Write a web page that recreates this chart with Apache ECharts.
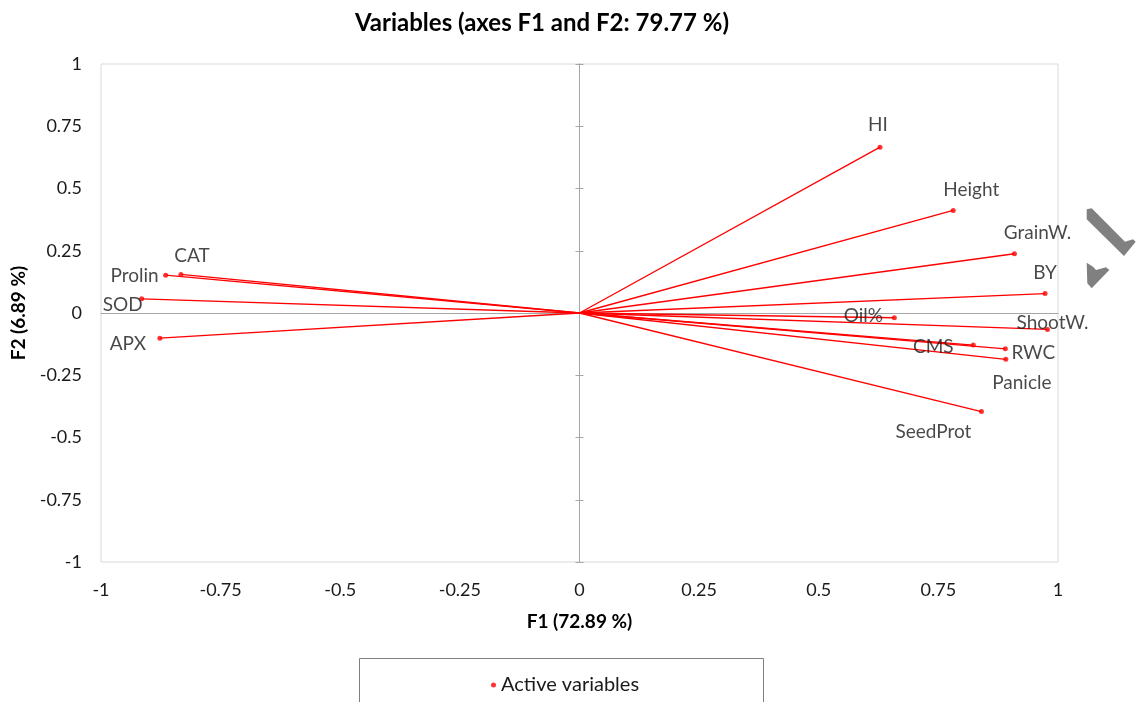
<!DOCTYPE html>
<html><head><meta charset="utf-8">
<script src="https://cdn.jsdelivr.net/npm/echarts@6/dist/echarts.min.js"></script>
<style>html,body{margin:0;padding:0;background:#fff}#c{width:1136px;height:702px}</style>
</head><body><div id="c"></div>
<script>
// ---- data ----
const variables = ['HI','Height','GrainW.','BY','Oil%','ShootW.','CMS','RWC','Panicle','SeedProt','CAT','Prolin','SOD','APX'];
const f1 = [0.628, 0.781, 0.909, 0.973, 0.658, 0.978, 0.823, 0.890, 0.891, 0.840, -0.833, -0.865, -0.915, -0.877];
const f2 = [0.666, 0.412, 0.238, 0.078, -0.019, -0.066, -0.129, -0.144, -0.186, -0.396, 0.155, 0.152, 0.057, -0.101];
const axisTicks = [-1, -0.75, -0.5, -0.25, 0, 0.25, 0.5, 0.75, 1];

// ---- label placement (style only) ----
const labelOffset = {
  'HI':[-2,-22], 'Height':[18,-21], 'GrainW.':[23,-21], 'BY':[0,-21], 'Oil%':[-31,-2],
  'ShootW.':[5,-7], 'CMS':[-40,2], 'RWC':[28,4], 'Panicle':[16,24], 'SeedProt':[-48,20],
  'CAT':[11,-19], 'Prolin':[-31,1], 'SOD':[-19,6], 'APX':[-32,6]
};

const FONT = 'Lato, "Open Sans", sans-serif';
const RED = '#ff0000';
const TXT = '#1a1a1a';
const gridRect = {left:101, right:78, top:64, bottom:140};
const fmt = v => String(v);

const points = variables.map((n,i)=>({
  name:n, value:[f1[i], f2[i]],
  label:{show:true, position:'inside', offset:labelOffset[n], formatter:n}
}));
const vectors = variables.map((n,i)=>({coords:[[0,0],[f1[i],f2[i]]]}));

const baseAxis = {
  type:'value', min:axisTicks[0], max:axisTicks[axisTicks.length-1], interval:0.25,
  splitLine:{show:false}, axisTick:{show:false}
};
const zeroAxis = (extra, lineShow, ticks, inside) => Object.assign({
  type:'value', min:-1, max:1, interval:0.25,
  axisLine:{show:lineShow, onZero:true, lineStyle:{color:'#a6a6a6', width:1}},
  axisTick:{show:ticks, inside:inside, length:4, lineStyle:{color:'#a6a6a6'}},
  axisLabel:{show:false}, splitLine:{show:false}
}, extra);

const chart = echarts.init(document.getElementById('c'), null, {renderer:'canvas'});
chart.setOption({
  animation:false,
  backgroundColor:'#fff',
  textStyle:{fontFamily:FONT},
  title:{
    text:'Variables (axes F1 and F2: 79.77 %)',
    left:537, top:6, textAlign:'center',
    textStyle:{fontFamily:FONT, fontSize:24, fontWeight:'bold', color:'#000'}
  },
  grid:[
    Object.assign({show:true, borderColor:'#d9d9d9', borderWidth:1, backgroundColor:'transparent'}, gridRect),
    Object.assign({}, gridRect),
    Object.assign({}, gridRect)
  ],
  xAxis:[
    Object.assign({}, baseAxis, {
      gridIndex:0, position:'bottom',
      axisLine:{show:false, onZero:false},
      axisLabel:{fontFamily:FONT, fontSize:18, color:TXT, margin:19, formatter:fmt},
      name:'F1 (72.89 %)', nameLocation:'middle', nameGap:50,
      nameTextStyle:{fontFamily:FONT, fontSize:19, fontWeight:'bold', color:'#000'}
    }),
    zeroAxis({gridIndex:1, position:'bottom'}, true, false, false),
    zeroAxis({gridIndex:2, position:'bottom'}, false, false, false)
  ],
  yAxis:[
    Object.assign({}, baseAxis, {
      gridIndex:0, position:'left',
      axisLine:{show:false, onZero:false},
      axisLabel:{fontFamily:FONT, fontSize:18, color:TXT, margin:19, formatter:fmt},
      name:'F2 (6.89 %)', nameLocation:'middle', nameGap:71, nameRotate:90,
      nameTextStyle:{fontFamily:FONT, fontSize:19, fontWeight:'bold', color:'#000'}
    }),
    zeroAxis({gridIndex:1, position:'left'}, true, true, false),
    zeroAxis({gridIndex:2, position:'left'}, true, true, true)
  ],
  legend:{
    top:670, left:486, data:['Active variables'],
    icon:'circle', itemWidth:5, itemHeight:5, itemGap:8,
    textStyle:{fontFamily:FONT, fontSize:20, color:TXT}
  },
  graphic:[
    {
      type:'rect', left:357, top:656, shape:{width:404, height:60},
      style:{fill:'none', stroke:'#7f7f7f', lineWidth:1}, silent:true, z:-1
    },
    {
      type:'polygon', silent:true,
      shape:{points:[[1086.7,209.3],[1091.7,208.3],[1125,241.7],[1133,239.3],[1135.7,241.7],[1124,256],[1086.7,219.3]]},
      style:{fill:'#808080'}
    },
    {
      type:'polygon', silent:true,
      shape:{points:[[1086.7,262.7],[1093,266.7],[1096,270],[1106,267.3],[1109.3,270],[1091.7,288.3],[1087.3,283.3]]},
      style:{fill:'#808080'}
    }
  ],
  series:[
    {
      type:'lines', coordinateSystem:'cartesian2d', xAxisIndex:0, yAxisIndex:0,
      data:vectors, symbol:'none', silent:true,
      lineStyle:{color:RED, width:1.3, opacity:1}
    },
    {
      name:'Active variables', type:'scatter', xAxisIndex:0, yAxisIndex:0,
      data:points, symbol:'circle', symbolSize:5,
      itemStyle:{color:RED},
      label:{fontFamily:FONT, fontSize:19, color:TXT},
      z:5
    }
  ]
});
</script></body></html>
